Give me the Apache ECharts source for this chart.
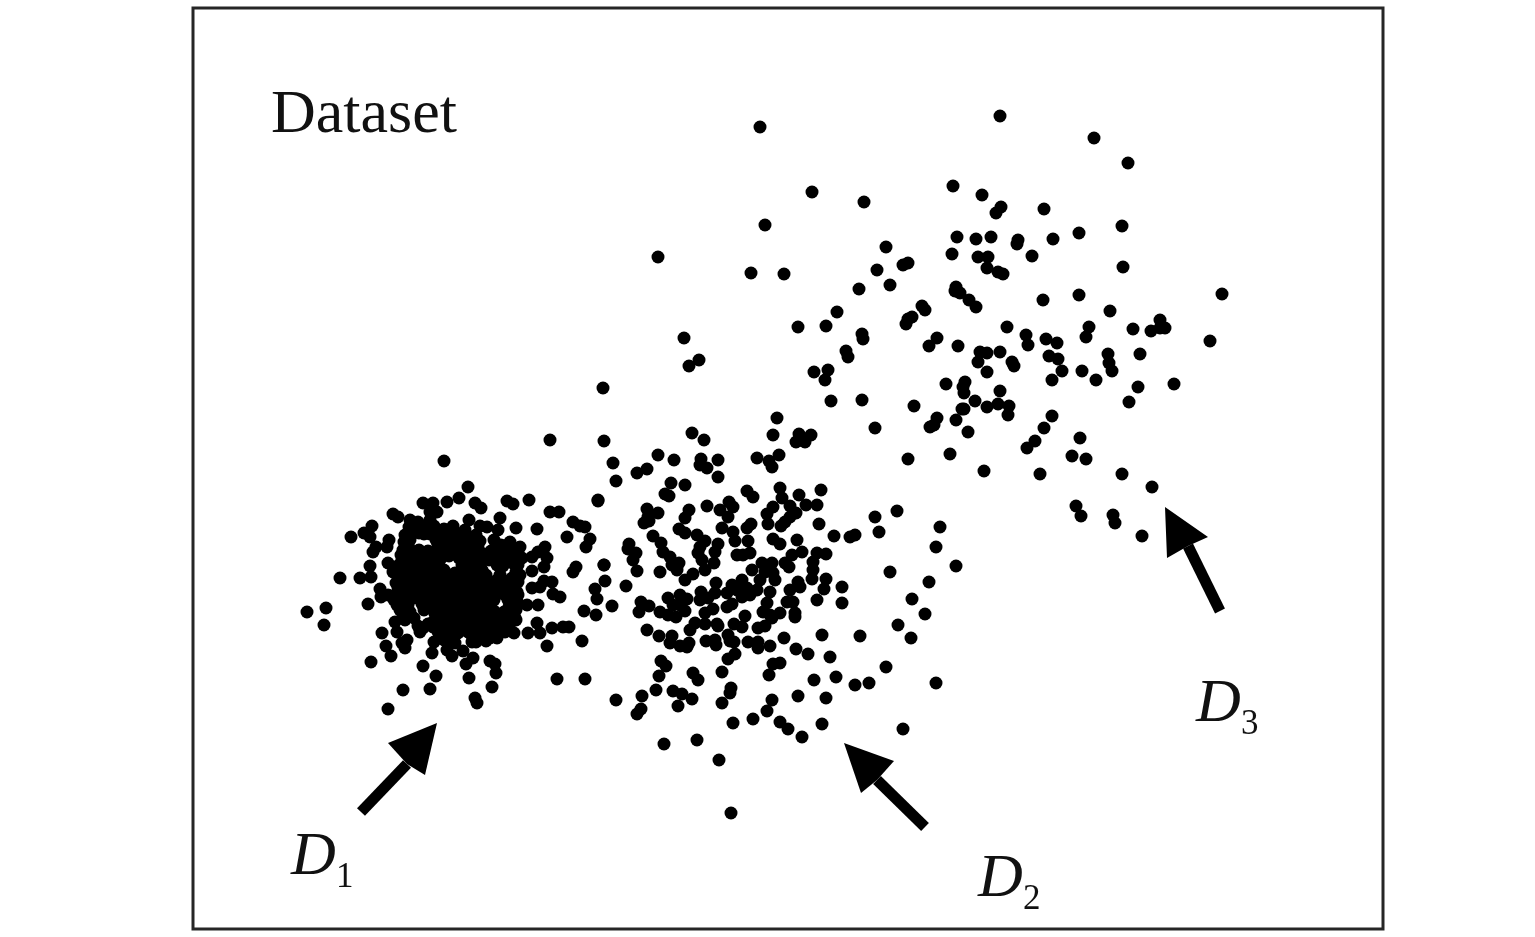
<!DOCTYPE html>
<html>
<head>
<meta charset="utf-8">
<style>html,body{margin:0;padding:0;background:#fff}#c{width:1535px;height:937px}</style>
<script src="https://cdn.jsdelivr.net/npm/echarts@6/dist/echarts.min.js"></script>
</head>
<body>
<div id="c"></div>
<script>
var clusterD1Outer = [[444,461],[468,487],[459,498],[423,503],[433,503],[447,502],[437,512],[430,512],[475,503],[481,508],[507,501],[513,504],[529,500],[598,501],[550,512],[559,512],[573,522],[580,526],[585,527],[590,539],[586,547],[567,537],[537,529],[516,528],[500,518],[498,530],[469,520],[480,526],[487,527],[393,514],[398,517],[372,526],[364,533],[351,537],[370,537],[389,540],[387,547],[376,547],[373,552],[370,566],[388,563],[393,572],[340,578],[360,578],[371,577],[380,589],[381,597],[388,595],[368,604],[307,612],[326,608],[324,625],[382,633],[386,646],[391,656],[395,622],[397,632],[402,643],[407,640],[405,648],[371,662],[423,666],[436,676],[403,690],[430,689],[388,709],[469,678],[475,698],[477,703],[492,687],[496,673],[490,661],[495,664],[466,664],[473,658],[463,651],[452,656],[447,650],[432,653],[434,642],[514,633],[528,633],[537,623],[540,633],[547,646],[552,628],[563,627],[569,627],[582,641],[557,679],[585,679],[584,611],[596,615],[597,599],[595,589],[605,581],[604,565],[576,567],[573,572],[560,597],[553,594],[552,582],[544,581],[540,587],[532,588],[538,605],[527,605],[532,571],[544,567],[547,558],[545,547],[538,552],[532,557],[522,558],[520,547],[490,638],[472,642]];
var clusterD1Core = [[410,520],[418,522],[430,520],[423,527],[434,526],[444,529],[454,531],[414,532],[405,535],[430,534],[441,536],[450,538],[462,534],[471,538],[480,541],[404,542],[403,550],[438,545],[447,544],[458,542],[468,546],[478,548],[497,548],[510,542],[506,550],[414,555],[424,556],[434,553],[444,552],[454,551],[464,553],[474,555],[484,554],[494,556],[504,558],[514,556],[402,560],[411,563],[430,562],[440,560],[462,565],[470,563],[480,562],[503,566],[514,564],[401,570],[410,572],[432,570],[444,570],[455,573],[465,574],[475,572],[482,570],[500,575],[516,572],[481,580],[492,583],[400,578],[409,581],[420,578],[430,580],[440,579],[450,582],[460,583],[470,582],[500,586],[510,585],[518,582],[398,590],[407,591],[417,588],[427,590],[437,589],[447,592],[457,592],[467,591],[477,590],[487,592],[497,592],[507,594],[517,592],[394,600],[404,600],[414,598],[424,600],[434,599],[444,601],[454,601],[464,600],[474,600],[484,601],[494,600],[512,601],[518,603],[400,610],[424,610],[434,609],[444,610],[454,610],[464,610],[474,610],[484,610],[494,611],[504,612],[514,610],[405,620],[414,618],[436,619],[446,620],[456,620],[466,619],[476,620],[486,620],[496,620],[506,621],[515,618],[423,628],[433,627],[444,629],[454,630],[464,628],[474,629],[484,629],[494,628],[504,627],[441,635],[450,638],[472,636],[481,636],[490,636],[500,632]];
var clusterD1Fill = [[409,527],[419,533],[439,531],[449,533],[459,537],[467,541],[409,548],[443,548],[453,547],[463,549],[473,551],[491,551],[501,553],[511,549],[408,557],[419,562],[429,557],[439,556],[449,556],[459,558],[469,558],[479,558],[489,560],[499,561],[509,561],[406,567],[437,565],[469,569],[478,566],[486,575],[405,575],[416,574],[427,575],[437,575],[449,577],[460,578],[471,577],[477,585],[487,587],[497,580],[505,581],[513,590],[404,585],[413,584],[424,585],[435,584],[445,586],[455,587],[465,587],[492,588],[503,590],[399,595],[410,594],[421,595],[430,595],[441,596],[451,596],[461,596],[471,596],[481,596],[491,596],[513,596],[400,604],[422,604],[429,605],[439,605],[449,606],[459,605],[469,605],[479,605],[489,606],[509,607],[403,615],[435,614],[440,615],[450,615],[460,615],[470,615],[480,615],[490,616],[500,616],[510,615],[418,626],[428,624],[439,624],[449,625],[459,625],[469,624],[479,624],[489,624],[499,624],[509,618],[438,632],[448,633],[458,633],[468,632],[478,632],[487,632],[496,632]];
var clusterD1Edge = [[399,565],[405,560],[416,568],[424,570],[413,578],[404,571],[396,583],[402,595],[397,605],[408,605],[508,545],[516,549],[497,565],[518,565],[512,578],[520,575],[505,595],[518,595],[508,600],[516,610],[511,622],[505,632],[497,638],[486,641],[476,642],[455,643],[444,640],[424,534],[412,526],[436,540],[453,526],[465,530],[476,535],[494,540],[501,545],[410,540],[408,552],[419,550],[428,551],[401,555],[516,620],[410,612],[433,622],[420,632]];
var clusterD2 = [[604,441],[613,463],[616,481],[598,500],[637,473],[647,469],[658,455],[674,460],[692,433],[704,440],[701,459],[700,465],[707,468],[718,460],[718,477],[671,483],[685,485],[665,494],[669,496],[777,418],[773,435],[799,434],[811,435],[796,442],[805,442],[800,440],[757,458],[779,455],[769,461],[772,467],[747,491],[753,497],[780,488],[782,498],[799,495],[821,490],[806,505],[817,505],[790,506],[773,507],[767,514],[796,513],[790,517],[785,522],[781,526],[768,524],[819,524],[729,502],[733,507],[720,510],[707,506],[689,510],[685,518],[728,517],[722,528],[751,524],[747,528],[733,532],[735,541],[748,541],[773,539],[780,544],[797,540],[802,552],[792,555],[826,554],[817,553],[813,562],[834,536],[850,537],[855,535],[875,517],[897,511],[879,532],[940,527],[936,547],[956,566],[890,572],[929,582],[912,599],[925,614],[842,587],[842,603],[817,600],[826,579],[824,589],[812,579],[813,570],[647,509],[658,513],[648,517],[644,523],[649,521],[679,529],[685,533],[697,535],[705,541],[653,536],[661,543],[663,552],[670,557],[629,544],[628,549],[636,553],[633,560],[604,565],[626,586],[637,571],[660,572],[672,565],[679,563],[677,570],[685,580],[693,574],[700,547],[698,553],[702,560],[705,570],[714,563],[718,544],[715,552],[737,555],[743,555],[750,553],[752,570],[762,563],[772,563],[785,563],[789,567],[765,572],[773,573],[760,580],[775,580],[798,582],[800,587],[790,590],[770,592],[757,590],[742,580],[732,585],[716,583],[727,593],[715,593],[701,592],[700,600],[708,598],[742,597],[750,595],[737,590],[747,588],[680,595],[668,598],[687,599],[673,605],[680,605],[641,602],[649,606],[639,612],[612,606],[787,602],[793,602],[767,603],[763,612],[780,613],[795,613],[770,615],[727,607],[732,604],[713,609],[705,613],[745,616],[685,611],[660,612],[668,615],[676,617],[647,630],[659,636],[672,636],[670,643],[680,646],[687,647],[689,643],[690,630],[695,623],[705,624],[717,624],[718,626],[706,641],[715,640],[716,645],[728,635],[730,641],[734,642],[734,624],[742,627],[748,642],[758,628],[765,626],[758,642],[758,648],[770,646],[784,638],[796,649],[808,654],[822,635],[830,657],[860,636],[898,625],[911,638],[886,667],[869,683],[855,685],[836,677],[814,680],[826,698],[798,696],[772,700],[767,711],[780,722],[788,729],[802,737],[822,724],[903,729],[936,683],[753,719],[733,723],[722,703],[731,688],[730,693],[722,672],[728,659],[735,654],[780,663],[773,664],[769,675],[693,673],[698,680],[661,661],[666,666],[659,676],[656,690],[642,696],[616,700],[641,709],[637,714],[673,691],[682,694],[692,699],[678,706],[664,744],[697,740],[719,760],[731,813],[772,618],[795,617]];
var clusterD3 = [[1000,116],[1094,138],[1128,163],[812,192],[864,202],[953,186],[982,195],[1001,207],[996,213],[1044,209],[1122,226],[1079,233],[1053,239],[1018,240],[1017,244],[991,237],[976,239],[957,237],[952,254],[978,257],[988,257],[987,268],[998,272],[1003,274],[1032,256],[1123,267],[886,247],[908,263],[903,265],[877,270],[784,274],[890,285],[859,289],[837,312],[798,327],[826,326],[956,287],[955,291],[960,293],[969,300],[976,307],[1043,300],[1079,295],[1222,294],[1110,311],[922,306],[925,310],[912,317],[908,319],[906,324],[1007,327],[1089,327],[1133,329],[1151,331],[1160,320],[1160,328],[1165,328],[1210,341],[862,334],[863,339],[846,351],[848,357],[814,372],[828,370],[825,380],[831,401],[862,400],[914,406],[875,428],[908,459],[937,338],[929,346],[958,346],[1026,335],[1028,345],[1046,339],[1057,343],[1086,337],[980,352],[987,353],[1000,352],[978,362],[987,372],[1012,362],[1014,366],[1049,356],[1058,359],[1062,371],[1052,380],[1082,371],[1096,380],[1108,354],[1109,363],[1112,371],[1140,354],[1138,387],[1174,384],[1129,402],[946,384],[965,382],[963,387],[964,393],[1000,391],[975,401],[964,409],[962,409],[987,407],[998,404],[1009,406],[1008,415],[956,420],[937,418],[934,425],[930,427],[968,432],[1052,416],[1044,428],[1035,441],[1027,448],[1080,438],[1072,456],[1086,459],[950,454],[984,471],[1040,474],[1122,474],[1152,487],[1076,506],[1081,516],[1113,515],[1115,523],[1142,536]];
var stragglers = [[760,127],[765,225],[751,273],[658,257],[684,338],[699,360],[689,366],[603,388],[550,440]];
// tail, notch, corner, tip, corner (data units)
var arrowD1 = [[361,812],[407,764],[388,743],[437,723],[425,775]];
var arrowD2 = [[925,827],[877,780],[894,761],[844,743],[861,793]];
var arrowD3 = [[1220,611],[1188,546],[1208,537],[1165,507],[1167,558]];
var arrowList = [arrowD1, arrowD2, arrowD3];
var captions = [
  ['Dataset',271,85,62,'normal'],
  ['D',291,827,62,'italic'],['1',336,860,35,'normal'],
  ['D',978,849,62,'italic'],['2',1023,882,35,'normal'],
  ['D',1196,674,62,'italic'],['3',1241,707,35,'normal']
];

function dots(name, data){
  return {name:name,type:'scatter',data:data,symbol:'circle',symbolSize:13,
    itemStyle:{color:'#000',opacity:1},silent:true};
}
var chart = echarts.init(document.getElementById('c'),null,{renderer:'canvas'});
chart.setOption({
  animation:false,
  backgroundColor:'#fff',
  grid:{left:193,right:152,top:8,bottom:8,show:true,borderColor:'#262626',borderWidth:3,backgroundColor:'#fff'},
  xAxis:{type:'value',min:193,max:1383,show:false},
  yAxis:{type:'value',min:8,max:929,inverse:true,show:false},
  tooltip:{show:false},
  series:[
    dots('D1 outer',clusterD1Outer),
    dots('D1 core',clusterD1Core),
    dots('D1 fill',clusterD1Fill),
    dots('D1 edge',clusterD1Edge),
    dots('D2',clusterD2),
    dots('D3',clusterD3),
    dots('Stragglers',stragglers),
    {type:'custom',silent:true,coordinateSystem:'cartesian2d',
      data:arrowList.map(function(a,i){return [a[3][0],a[3][1],i];}),
      renderItem:function(params,api){
        var a=arrowList[api.value(2)].map(function(p){return api.coord(p);});
        return {type:'group',children:[
          {type:'line',shape:{x1:a[0][0],y1:a[0][1],x2:a[1][0],y2:a[1][1]},
            style:{stroke:'#000',lineWidth:11,lineCap:'butt',fill:null}},
          {type:'polygon',shape:{points:[a[3],a[2],a[1],a[4]]},style:{fill:'#000'}}
        ]};
      }
    },
    {type:'custom',silent:true,coordinateSystem:'cartesian2d',
      data:captions.map(function(c,i){return [c[1],c[2],i];}),
      renderItem:function(params,api){
        var c=captions[api.value(2)],p=api.coord([c[1],c[2]]);
        return {type:'text',x:p[0],y:p[1],style:{
          text:c[0],fill:'#111',align:'left',verticalAlign:'top',
          font:c[4]+' '+c[3]+'px "Liberation Serif"'}};
      }
    }
  ]
});
</script>
</body>
</html>
